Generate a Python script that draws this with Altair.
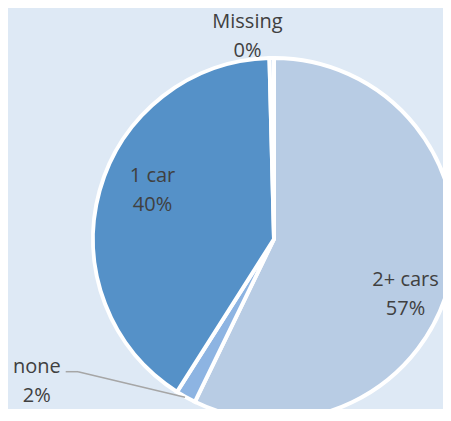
import math
import altair as alt
import pandas as pd

# ---- data ----
categories = ["2+ cars", "none", "1 car", "Missing"]
shares = [57.2, 1.8, 40.6, 0.4]
pct_labels = ["57%", "2%", "40%", "0%"]
slice_order = [0, 1, 2, 3]
colors = ["#B8CCE4", "#8DB4E2", "#5591C8", "#C5D9F1"]

BG = "#DEE9F5"
TEXT = "#404040"
FONT = "Open Sans"
FS = 20

df = pd.DataFrame({"cat": categories, "share": shares, "pct": pct_labels, "ord": slice_order})
df["label"] = df["cat"] + "\n" + df["pct"]

CX, CY, R = 266, 231, 181
theta_scale = alt.Scale(domain=[0, sum(shares)], range=[0, 2 * math.pi])

base = alt.Chart(df)

arcs = base.mark_arc(outerRadius=R, stroke="white", strokeWidth=4, x=CX, y=CY).encode(
    theta=alt.Theta("share:Q", stack=True, scale=theta_scale),
    color=alt.Color("cat:N", scale=alt.Scale(domain=categories, range=colors), legend=None),
    order=alt.Order("ord:Q"),
)


def label_layer(cat, radius, dx, dy):
    return (
        base.transform_window(cum="sum(share)", sort=[alt.SortField("ord")], frame=[None, 0])
        .transform_calculate(mid="datum.cum - datum.share / 2")
        .transform_filter(alt.datum.cat == cat)
        .mark_text(
            radius=radius, dx=dx, dy=dy, x=CX, y=CY,
            font=FONT, fontSize=FS, color=TEXT, lineBreak="\n", lineHeight=29,
            align="center", baseline="middle",
        )
        .encode(theta=alt.Theta("mid:Q", scale=theta_scale, stack=None), text="label:N")
    )


labels = [
    label_layer("2+ cars", 135, 0, 11),
    label_layer("1 car", 125, -1, -29.5),
    label_layer("Missing", 204, -24, -13.5),
    label_layer("none", 181, -149, -30),
]

leader_df = pd.DataFrame({"x": [57.7, 70], "y": [363.7, 363.7], "x2": [70, 177], "y2": [363.7, 389.3]})
leader = alt.Chart(leader_df).mark_rule(color="#A6A6A6", strokeWidth=1.5).encode(
    x=alt.X("x:Q", scale=None), y=alt.Y("y:Q", scale=None),
    x2="x2:Q", y2="y2:Q",
)

chart = alt.layer(arcs, *labels, leader).properties(
    width=435, height=401, padding=0, autosize=alt.AutoSizeParams(type="none"),
    background=BG,
).configure_view(stroke=None)

chart.save("out.html", embed_options={"renderer": "svg", "actions": False})
